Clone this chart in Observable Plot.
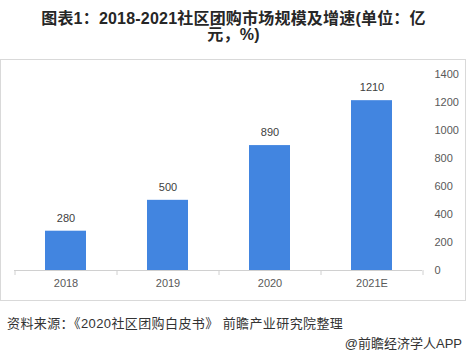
<!DOCTYPE html>
<html>
<head>
<meta charset="utf-8">
<script src="https://cdn.jsdelivr.net/npm/d3@7"></script>
<script src="https://cdn.jsdelivr.net/npm/@observablehq/plot@0.6"></script>
<style>
  html, body { margin: 0; padding: 0; background: #fff; }
  body { width: 467px; height: 353px; position: relative; overflow: hidden;
         font-family: "Liberation Sans", "Noto Sans CJK SC", sans-serif; }
  #title { position: absolute; left: 0; top: 11px; width: 467px; text-align: center;
           font-weight: bold; font-size: 16px; line-height: 16px; color: #262626; letter-spacing: 0.2px; }
  #frame { position: absolute; left: 0; top: 59px; width: 466px; height: 242px;
           box-sizing: border-box; border: 1px solid #d9d9d9; }
  #chart { position: absolute; left: 0; top: 59px; }
  #source { position: absolute; left: 7px; top: 313px; font-size: 13px; color: #333;
            letter-spacing: 0.4px; white-space: nowrap; }
  #brand { position: absolute; right: 5px; top: 333px; font-size: 13px; color: #333; white-space: nowrap; }
</style>
</head>
<body>
<div id="title">图表1：2018-2021社区团购市场规模及增速(单位：亿<br>元，%)</div>
<div id="frame"></div>
<div id="chart"></div>
<div id="source">资料来源：《2020社区团购白皮书》 前瞻产业研究院整理</div>
<div id="brand">@前瞻经济学人APP</div>
<script>
const categories = ["2018", "2019", "2020", "2021E"];
const values = [280, 500, 890, 1210];
const yTicks = [0, 200, 400, 600, 800, 1000, 1200, 1400];

const data = categories.map((c, i) => ({year: c, value: values[i]}));
const lastCat = [categories[categories.length - 1]];

const chart = Plot.plot({
  width: 466,
  height: 242,
  marginLeft: 14,
  marginRight: 44,
  marginTop: 14.5,
  marginBottom: 31,
  style: {fontFamily: "'Liberation Sans', 'Noto Sans CJK SC', sans-serif", fontSize: "11px", background: "transparent"},
  x: {domain: categories, paddingInner: 0.6, paddingOuter: 0.3, axis: null, label: null},
  y: {domain: [0, 1400], axis: null, label: null},
  marks: [
    Plot.barY(data, {x: "year", y: "value", fill: "#4285E0"}),
    Plot.text(data, {x: "year", y: "value", text: d => String(d.value), dy: -13, fill: "#404040", fontSize: 11}),
    Plot.ruleY([0], {stroke: "#d0d0d0"}),
    Plot.axisX({tickSize: 0, tickPadding: 9, fill: "#595959", fontSize: 11, label: null}),
    Plot.axisX({tickSize: 5, tickFormat: () => "", dx: -51, stroke: "#d0d0d0", label: null}),
    Plot.axisX(lastCat, {tickSize: 5, tickFormat: () => "", dx: 51, stroke: "#d0d0d0", label: null}),
    Plot.axisY({anchor: "right", ticks: yTicks, tickFormat: d => String(d), tickSize: 0, tickPadding: 12, fill: "#595959", fontSize: 11, label: null})
  ]
});
document.getElementById("chart").appendChild(chart);
</script>
</body>
</html>
